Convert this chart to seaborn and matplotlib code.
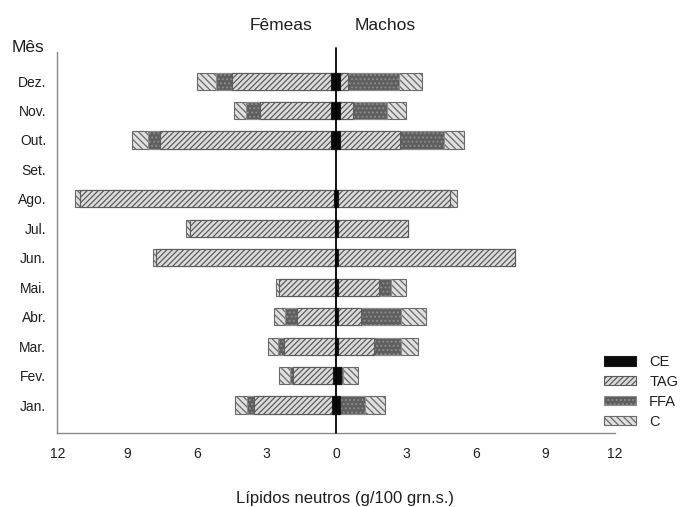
import numpy as np
import pandas as pd
import matplotlib
matplotlib.use("Agg")
import matplotlib.pyplot as plt
from matplotlib.patches import Patch
import seaborn as sns

# Months, top to bottom
months = ["Dez.", "Nov.", "Out.", "Set.", "Ago.", "Jul.", "Jun.",
          "Mai.", "Abr.", "Mar.", "Fev.", "Jan."]

# Neutral lipid classes (g/100 g m.s.), females
fem_CE  = [0.25, 0.25, 0.25, np.nan, 0.10, 0.05, 0.05, 0.05, 0.05, 0.05, 0.15, 0.20]
fem_TAG = [4.25, 3.05, 7.35, np.nan, 10.95, 6.25, 7.70, 2.40, 1.65, 2.20, 1.70, 3.35]
fem_FFA = [0.70, 0.60, 0.50, np.nan, 0.00, 0.00, 0.00, 0.00, 0.50, 0.25, 0.15, 0.30]
fem_C   = [0.80, 0.50, 0.70, np.nan, 0.20, 0.15, 0.15, 0.15, 0.50, 0.45, 0.45, 0.50]

# Males
mal_CE  = [0.15, 0.15, 0.15, np.nan, 0.05, 0.05, 0.05, 0.05, 0.05, 0.05, 0.20, 0.15]
mal_TAG = [0.35, 0.55, 2.60, np.nan, 4.85, 3.05, 7.65, 1.80, 1.00, 1.55, 0.00, 0.00]
mal_FFA = [2.20, 1.50, 1.90, np.nan, 0.00, 0.00, 0.00, 0.50, 1.75, 1.20, 0.10, 1.10]
mal_C   = [1.00, 0.80, 0.85, np.nan, 0.30, 0.00, 0.00, 0.65, 1.05, 0.70, 0.65, 0.85]

classes = ["CE", "TAG", "FFA", "C"]
tick_values = [-12, -9, -6, -3, 0, 3, 6, 9, 12]
tick_labels = ["12", "9", "6", "3", "0", "3", "6", "9", "12"]

styles = {
    "CE":  dict(color="#0a0a0a", edgecolor="#1a1a1a", hatch=None),
    "TAG": dict(color="#dcdcdc", edgecolor="#5c5c5c", hatch="//////"),
    "FFA": dict(color="#5e5e5e", edgecolor="#8c8c8c", hatch="...."),
    "C":   dict(color="#e0e0e0", edgecolor="#6a6a6a", hatch="\\\\\\\\\\"),
}

sns.set_theme(style="white")
plt.rcParams["font.family"] = ["Liberation Sans", "DejaVu Sans"]
plt.rcParams["hatch.linewidth"] = 0.9
text_color = "#1e1e1e"

fig = plt.figure(figsize=(6.81, 5.07), dpi=100)
ax = fig.add_axes([0.0844, 0.146, 0.819, 0.751])

def draw_side(parts, sign):
    df = pd.DataFrame(dict(zip(classes, parts)), index=months)
    cum = df.cumsum(axis=1)
    # draw outer layer first, inner layers on top
    for cls in reversed(classes):
        st = styles[cls]
        data = pd.DataFrame({"mes": months, "valor": sign * cum[cls].values})
        kw = dict(edgecolor=st["edgecolor"], linewidth=0.8)
        if st["hatch"]:
            kw["hatch"] = st["hatch"]
        sns.barplot(data=data, x="valor", y="mes", order=months, orient="h",
                    color=st["color"], saturation=1, width=0.58,
                    errorbar=None, ax=ax, **kw)

draw_side([fem_CE, fem_TAG, fem_FFA, fem_C], -1)
draw_side([mal_CE, mal_TAG, mal_FFA, mal_C], 1)

ax.axvline(0, color="black", lw=1.3, ymin=0, ymax=1.01, clip_on=False, zorder=5)

ax.set_xlim(-12, 12)
ax.set_ylim(len(months) - 0.05, -0.98)
ax.set_xticks(tick_values)
ax.set_xticklabels(tick_labels)
ax.set_xlabel("")
ax.set_ylabel("")

for s in ["top", "right"]:
    ax.spines[s].set_visible(False)
for s in ["left", "bottom"]:
    ax.spines[s].set_color("#8a8a8a")
    ax.spines[s].set_linewidth(1.0)
ax.tick_params(axis="both", which="both", direction="out", length=4,
               width=0.8, color="#8a8a8a", labelsize=10, labelcolor=text_color)
ax.tick_params(axis="x", pad=6)
ax.tick_params(axis="y", pad=4)

fig.text(312 / 681, 1 - 25 / 507, "Fêmeas", ha="right", va="center",
         fontsize=12.5, color=text_color)
fig.text(355 / 681, 1 - 25 / 507, "Machos", ha="left", va="center",
         fontsize=12.5, color=text_color)
fig.text(12 / 681, 1 - 47 / 507, "Mês", ha="left", va="center",
         fontsize=12.5, color=text_color)
fig.text(345 / 681, 1 - 498 / 507, "Lípidos neutros (g/100 grn.s.)",
         ha="center", va="center", fontsize=12, color=text_color)

handles = [Patch(facecolor=styles[c]["color"], edgecolor=styles[c]["edgecolor"],
                 hatch=styles[c]["hatch"], linewidth=0.8, label=c) for c in classes]
ax.legend(handles=handles, loc="upper left",
          bbox_to_anchor=(604 / 681, 1 - 355 / 507),
          bbox_transform=fig.transFigure, frameon=False, fontsize=10.5,
          handlelength=2.2, handleheight=0.62, handletextpad=0.9,
          labelspacing=0.4, borderpad=0, borderaxespad=0,
          labelcolor=text_color)

fig.savefig("out.png", dpi=100, facecolor="white")
